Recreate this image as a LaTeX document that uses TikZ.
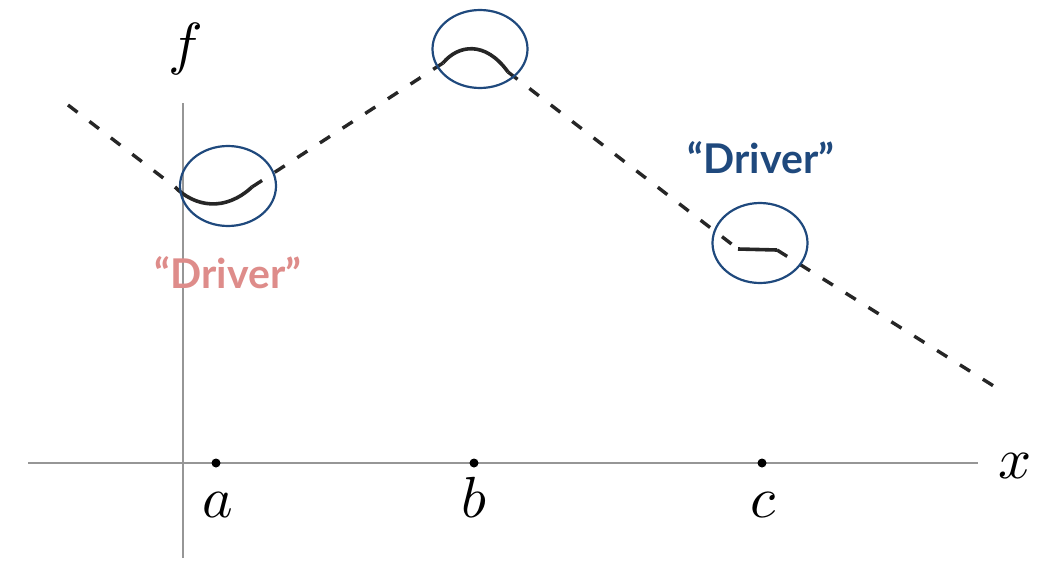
\documentclass[tikz,border=0pt]{standalone}
\usepackage{fontspec}
\usetikzlibrary{shapes.geometric}
\newfontfamily\lato{Lato}
\definecolor{cblue}{RGB}{31,73,125}
\definecolor{cpink}{RGB}{222,140,138}
\definecolor{cgray}{RGB}{150,150,150}
\begin{document}
\begin{tikzpicture}[x=1pt,y=-1pt,
  axis/.style={cgray,line width=1.8pt},
  dashline/.style={black!85,line width=3.4pt,dash pattern=on 12pt off 15pt},
  solidcurve/.style={black!85,line width=3.6pt},
  ring/.style={draw=cblue,line width=2.2pt,ellipse,inner sep=0pt},
  dot/.style={circle,fill=black,inner sep=0pt,minimum size=9pt},
  mlabel/.style={scale=5.8,inner sep=0pt,anchor=base},
  driver/.style={font=\lato\bfseries\fontsize{41}{48}\selectfont,inner sep=0pt}]
\useasboundingbox (0,0) rectangle (1046,567);
% axes
\coordinate (xl) at (28,463);
\coordinate (xr) at (978,463);
\coordinate (yb) at (183,558);
\coordinate (yt) at (183,103);
\draw[axis] (xl) -- (xr);
\draw[axis] (yb) -- (yt);
\node[mlabel] (flab) at (186,64) {$f$};
\node[mlabel] (xlab) at (1015,478) {$x$};
% points
\node[dot] (pa) at (216,463) {};
\node[dot] (pb) at (474,463) {};
\node[dot] (pc) at (762,463) {};
\node[mlabel] (la) at (218,517) {$a$};
\node[mlabel] (lb) at (474,517) {$b$};
\node[mlabel] (lc) at (763,517) {$c$};
% function
\coordinate (d0) at (68,105);
\coordinate (s1) at (175,187);
\coordinate (e1) at (252,187);
\coordinate (s2) at (443,63);
\coordinate (e2) at (508,72);
\coordinate (s3) at (738,249);
\coordinate (e3) at (777,250);
\coordinate (d4) at (1000,390);
\draw[dashline] (d0) -- (s1);
\draw[solidcurve] (s1) .. controls (195,207) and (225,212) .. (e1);
\draw[dashline] (e1) -- (s2);
\draw[solidcurve] (s2) .. controls (458,45) and (485,40) .. (e2);
\draw[dashline] (e2) -- (s3);
\draw[solidcurve] (s3) -- (e3);
\draw[dashline] (e3) -- (d4);
% rings
\node[ring,minimum width=96pt,minimum height=80pt] (r1) at (228,186) {};
\node[ring,minimum width=95pt,minimum height=78pt] (r2) at (480,49) {};
\node[ring,minimum width=95pt,minimum height=80pt] (r3) at (760,243) {};
% labels
\node[driver,text=cpink] (dpink) at (228,273) {“Driver”};
\node[driver,text=cblue] (dblue) at (761,158) {“Driver”};
\end{tikzpicture}
\end{document}
